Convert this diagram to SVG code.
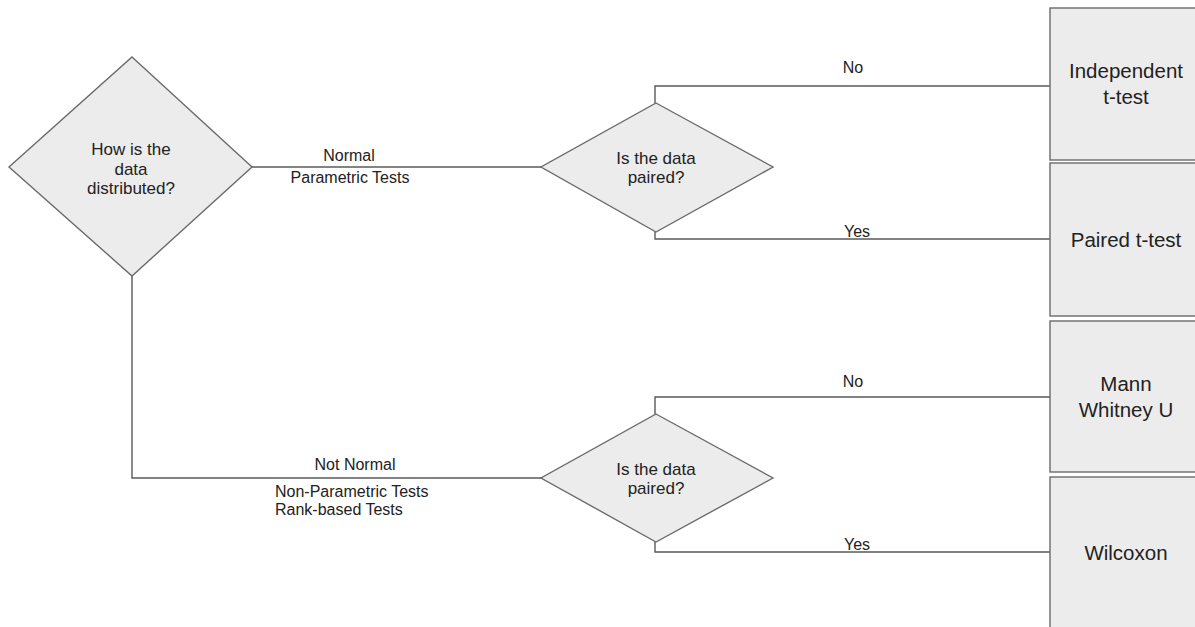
<svg xmlns="http://www.w3.org/2000/svg" width="1195" height="627" viewBox="0 0 1195 627">
<style>
.shape{fill:#ececec;stroke:#6b6b6b;stroke-width:1.4}
.conn{fill:none;stroke:#5a5a5a;stroke-width:1.4}
.dt{font-family:"Liberation Sans",Arial,sans-serif;font-size:17px;fill:#222;text-anchor:middle}
.bt{font-family:"Liberation Sans",Arial,sans-serif;font-size:20.5px;fill:#222;text-anchor:middle}
.lt{font-family:"Liberation Sans",Arial,sans-serif;font-size:16px;fill:#222;text-anchor:middle}
.ll{font-family:"Liberation Sans",Arial,sans-serif;font-size:16px;fill:#222;text-anchor:start}
</style>
<rect width="1195" height="627" fill="#ffffff"/>
<g id="connectors">
<path class="conn" d="M252,167 H541"/>
<path class="conn" d="M132,276 V478 H541"/>
<path class="conn" d="M655,103 V86 H1050"/>
<path class="conn" d="M655,232 V239 H1050"/>
<path class="conn" d="M655,414 V397 H1050"/>
<path class="conn" d="M655,542 V552 H1050"/>
<text class="lt" x="349" y="161">Normal</text>
<text class="lt" x="350" y="183">Parametric Tests</text>
<text class="lt" x="355" y="470">Not Normal</text>
<text class="ll" x="275" y="497">Non-Parametric Tests</text>
<text class="ll" x="275" y="515">Rank-based Tests</text>
<text class="lt" x="853" y="73">No</text>
<text class="lt" x="857" y="237">Yes</text>
<text class="lt" x="853" y="387">No</text>
<text class="lt" x="857" y="550">Yes</text>
</g>
<g id="q-distribution">
<polygon class="shape" points="132,57 252,167 132,276 9,167"/>
<text class="dt" x="131" y="155">How is the</text>
<text class="dt" x="131" y="175">data</text>
<text class="dt" x="131" y="194">distributed?</text>
</g>
<g id="q-paired-normal">
<polygon class="shape" points="656,103 773,167 656,232 541,167"/>
<text class="dt" x="656" y="164">Is the data</text>
<text class="dt" x="656" y="183">paired?</text>
</g>
<g id="q-paired-notnormal">
<polygon class="shape" points="656,414 773,478 656,542 541,478"/>
<text class="dt" x="656" y="475">Is the data</text>
<text class="dt" x="656" y="494">paired?</text>
</g>
<g id="independent-t">
<rect class="shape" x="1050" y="8" width="152" height="152"/>
<text class="bt" x="1126" y="78">Independent</text>
<text class="bt" x="1126" y="104">t-test</text>
</g>
<g id="paired-t">
<rect class="shape" x="1050" y="163" width="152" height="153"/>
<text class="bt" x="1126" y="247">Paired t-test</text>
</g>
<g id="mann-whitney">
<rect class="shape" x="1050" y="321" width="152" height="151"/>
<text class="bt" x="1126" y="391">Mann</text>
<text class="bt" x="1126" y="417">Whitney U</text>
</g>
<g id="wilcoxon">
<rect class="shape" x="1050" y="477" width="152" height="165"/>
<text class="bt" x="1126" y="560">Wilcoxon</text>
</g>
</svg>
